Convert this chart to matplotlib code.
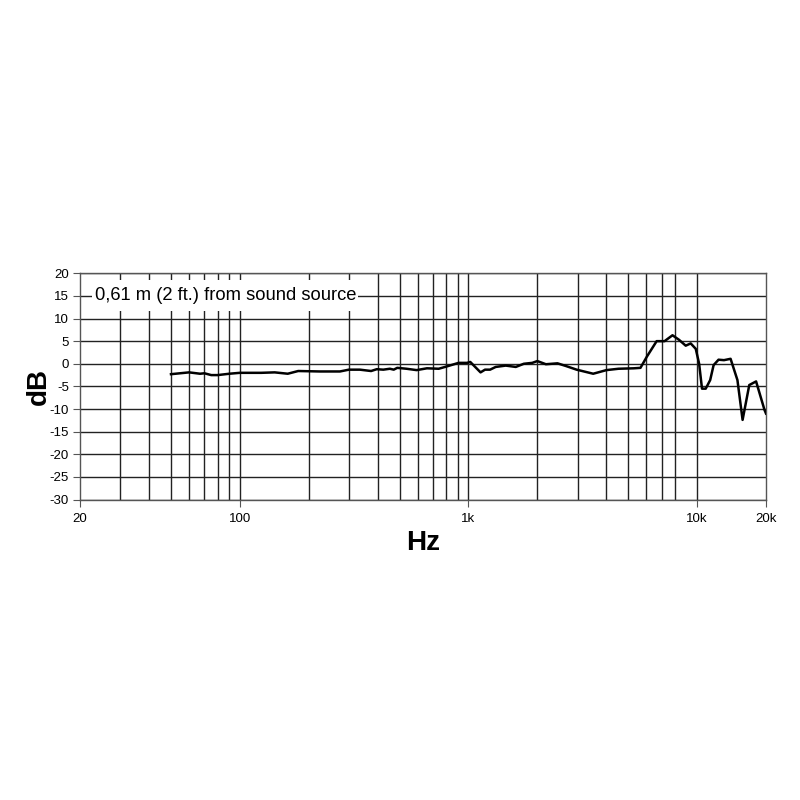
import matplotlib
matplotlib.use("Agg")
import matplotlib.pyplot as plt
from matplotlib.patches import Rectangle
import numpy as np

freq_hz = [50, 60, 67, 70, 75, 80, 90, 100, 124, 142, 162, 180, 224, 237, 274, 300, 335,
           375, 397, 424, 453, 471, 488, 536, 593, 658, 741, 802, 905, 985, 1018, 1129,
           1181, 1243, 1315, 1455, 1610, 1745, 1900, 2000, 2180, 2450, 2670, 2970, 3510,
           4010, 4530, 5290, 5650, 6030, 6650, 7200, 7800, 8330, 8910, 9370, 9860, 10200,
           10500, 10900, 11400, 11800, 12400, 13100, 14000, 15000, 15800, 16900, 18100, 19700, 20000]
level_db = [-2.3, -1.9, -2.2, -2.1, -2.5, -2.5, -2.2, -2.0, -2.0, -1.9, -2.2, -1.6, -1.7, -1.7, -1.7, -1.3, -1.3,
            -1.6, -1.2, -1.3, -1.1, -1.3, -0.9, -1.1, -1.4, -1.0, -1.1, -0.6, 0.2, 0.2, 0.4, -1.9,
            -1.3, -1.3, -0.7, -0.4, -0.7, 0.0, 0.2, 0.6, -0.1, 0.1, -0.5, -1.3, -2.2,
            -1.4, -1.1, -1.0, -0.9, 1.6, 5.0, 5.0, 6.3, 5.3, 4.0, 4.5, 3.3, 0.0,
            -5.5, -5.5, -3.6, -0.3, 0.9, 0.8, 1.1, -3.6, -12.4, -4.7, -3.9, -10.2, -11.0]

grid_freqs = [30, 40, 50, 60, 70, 80, 90, 100, 200, 300, 400, 500, 600, 700, 800, 900,
              1000, 2000, 3000, 4000, 5000, 6000, 7000, 8000, 10000]
xtick_vals = [20, 100, 1000, 10000, 20000]
xtick_labels = ["20", "100", "1k", "10k", "20k"]
ytick_vals = list(range(-30, 25, 5))
note = "0,61 m (2 ft.) from sound source"

plt.rcParams['font.family'] = ['Liberation Sans', 'DejaVu Sans']

fig = plt.figure(figsize=(8, 8), dpi=100)
ax = fig.add_axes([0.1, 0.3756, 0.8575, 0.2828])
ax.set_xscale('log')
ax.set_xlim(20, 20000)
ax.set_ylim(-30, 20)

gc = '#222222'
for f in grid_freqs:
    ax.axvline(f, color=gc, lw=1.0, zorder=1)
for v in ytick_vals:
    ax.axhline(v, color=gc, lw=1.0, zorder=1)

ax.plot(freq_hz, level_db, color='black', lw=1.8, zorder=3)

ax.set_xticks(xtick_vals)
ax.set_xticklabels(xtick_labels, fontsize=9.5)
ax.xaxis.set_minor_locator(matplotlib.ticker.NullLocator())
ax.set_yticks(ytick_vals)
ax.set_yticklabels([str(v) for v in ytick_vals], fontsize=9.5)
ax.tick_params(axis='x', direction='out', length=5, width=0.8, color='#555555', pad=5)
ax.tick_params(axis='y', direction='out', length=5, width=0.8, color='#555555', pad=3)

for s in ax.spines.values():
    s.set_color('#555555')
    s.set_linewidth(1.0)

# white backing behind the note
ax.add_patch(Rectangle((0.0175, 0.833), 0.3875, 0.137, transform=ax.transAxes,
                       fc='white', ec='none', zorder=2))
ax.text(0.0225, 0.902, note, fontsize=13.2, ha='left', va='center', zorder=4,
        transform=ax.transAxes)

ax.set_xlabel('Hz', fontsize=20, fontweight='bold', labelpad=3)
ax.set_ylabel('dB', fontsize=20, fontweight='bold', labelpad=-2)

fig.savefig('out.png', dpi=100, facecolor='white')
